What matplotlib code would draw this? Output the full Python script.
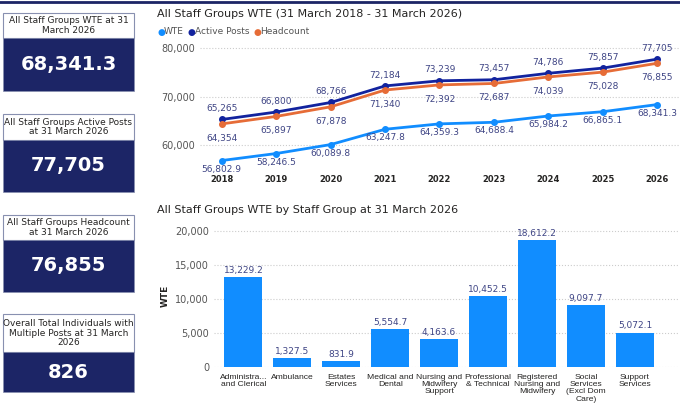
import matplotlib
matplotlib.use("Agg")
import matplotlib.pyplot as plt
from matplotlib.patches import Rectangle

years = [2018, 2019, 2020, 2021, 2022, 2023, 2024, 2025, 2026]
wte = [56802.9, 58246.5, 60089.8, 63247.8, 64359.3, 64688.4, 65984.2, 66865.1, 68341.3]
active = [65265, 66800, 68766, 72184, 73239, 73457, 74786, 75857, 77705]
headcount = [64354, 65897, 67878, 71340, 72392, 72687, 74039, 75028, 76855]

groups = ["Administra...\nand Clerical", "Ambulance", "Estates\nServices", "Medical and\nDental",
          "Nursing and\nMidwifery\nSupport", "Professional\n& Technical", "Registered\nNursing and\nMidwifery",
          "Social\nServices\n(Excl Dom\nCare)", "Support\nServices"]
group_wte = [13229.2, 1327.5, 831.9, 5554.7, 4163.6, 10452.5, 18612.2, 9097.7, 5072.1]

cards = [("All Staff Groups WTE at 31\nMarch 2026", "68,341.3"),
         ("All Staff Groups Active Posts\nat 31 March 2026", "77,705"),
         ("All Staff Groups Headcount\nat 31 March 2026", "76,855"),
         ("Overall Total Individuals with\nMultiple Posts at 31 March\n2026", "826")]

W, H = 680, 418
C_WTE, C_ACT, C_HC = "#118DFF", "#12239E", "#E66C37"
NAVY = "#1C2566"
LBL = "#3F4585"
NARROW = ["Liberation Sans", "DejaVu Sans"]
fig = plt.figure(figsize=(6.8, 4.18), dpi=100)

def rect(x0, y0, x1, y1):
    return [x0 / W, 1 - y1 / H, (x1 - x0) / W, (y1 - y0) / H]

# KPI cards
card_pos = [(13, 38, 38, 91), (114, 140, 140, 192), (215, 240, 240, 292), (314, 352, 352, 392)]
for (title, val), (t0, t1, d0, d1) in zip(cards, card_pos):
    fig.patches.append(Rectangle((3 / W, 1 - t1 / H), 131 / W, (t1 - t0) / H, transform=fig.transFigure,
                                 facecolor="white", edgecolor="#8890b0", lw=0.8))
    fig.text(68.5 / W, 1 - (t0 + t1) / 2 / H, title, ha="center", va="center", fontsize=6.5,
             color="#252423", linespacing=1.05)
    fig.patches.append(Rectangle((3 / W, 1 - d1 / H), 131 / W, (d1 - d0) / H, transform=fig.transFigure,
                                 facecolor=NAVY, edgecolor="#8890b0", lw=0.5))
    fig.text(68.5 / W, 1 - (d0 + d1) / 2 / H, val, ha="center", va="center", fontsize=14,
             fontweight="bold", color="white")

# top line
fig.add_artist(plt.Line2D([0, 1], [1 - 2 / H, 1 - 2 / H], color=NAVY, lw=2))
fig.text(157 / W, 1 - 14 / H, "All Staff Groups WTE (31 March 2018 - 31 March 2026)", fontsize=8,
         color="#252423", va="center")
# legend
fig.canvas.draw()
r = fig.canvas.get_renderer()
lx = 157
for name, c in [("WTE", C_WTE), ("Active Posts", C_ACT), ("Headcount", C_HC)]:
    fig.text(lx / W, 1 - 32 / H, "●", color=c, fontsize=6.5, va="center")
    t = fig.text((lx + 7) / W, 1 - 32 / H, name, color="#555555", fontsize=6.5, va="center")
    lx += 7 + t.get_window_extent(r).width + 4

ax = fig.add_axes(rect(200, 40, 679, 165))
ax.plot(years, wte, color=C_WTE, lw=2, marker="o", ms=4)
ax.plot(years, active, color=C_ACT, lw=2, marker="o", ms=4)
ax.plot(years, headcount, color=C_HC, lw=2, marker="o", ms=4)
ax.set_xlim(2017.6, 2026.4)
ax.set_ylim(55880, 81650)
ax.set_yticks([60000, 70000, 80000])
ax.set_yticklabels(["60,000", "70,000", "80,000"], fontsize=7, color="#555555")
ax.set_xticks(years)
ax.set_xticklabels([str(y) for y in years], fontsize=6, fontweight="bold", color="#252423")
ax.tick_params(axis="x", pad=7)
ax.grid(axis="y", ls=":", color="#cccccc", lw=0.8)
for s in ax.spines.values():
    s.set_visible(False)
ax.tick_params(length=0)
for x, a, h, w in zip(years, active, headcount, wte):
    ax.annotate(f"{a:,}", (x, a), xytext=(0, 6), textcoords="offset points", ha="center", fontsize=6.5, color=LBL)
    ax.annotate(f"{h:,}", (x, h), xytext=(0, -7), textcoords="offset points", ha="center", va="top", fontsize=6.5, color=LBL)
    ax.annotate(f"{w:,.1f}", (x, w), xytext=(0, -3),
                textcoords="offset points", ha="center", va="top", fontsize=6.5, color=LBL)

# bar chart
fig.text(157 / W, 1 - 210 / H, "All Staff Groups WTE by Staff Group at 31 March 2026", fontsize=8,
         color="#252423", va="center")
bx = fig.add_axes(rect(214, 225, 679, 367))
xs = list(range(len(groups)))
bx.bar(xs, group_wte, width=0.78, color=C_WTE)
bx.set_xlim(-0.6, 8.9)
bx.set_ylim(0, 20880)
bx.set_yticks([0, 5000, 10000, 15000, 20000])
bx.set_yticklabels(["0", "5,000", "10,000", "15,000", "20,000"], fontsize=7, color="#555555")
bx.set_xticks(xs)
bx.set_xticklabels(groups, fontsize=6.1, family=NARROW, color="#252423", linespacing=1.05)
bx.tick_params(axis="x", pad=5)
bx.set_ylabel("WTE", fontsize=6.5, fontweight="bold", color="#252423")
bx.grid(axis="y", ls=":", color="#cccccc", lw=0.8)
bx.set_axisbelow(True)
for s in bx.spines.values():
    s.set_visible(False)
bx.tick_params(length=0)
for x, v in zip(xs, group_wte):
    bx.annotate(f"{v:,.1f}", (x, v), xytext=(0, 3), textcoords="offset points", ha="center",
                fontsize=6.5, color=LBL)

fig.savefig("out.png", dpi=100)
